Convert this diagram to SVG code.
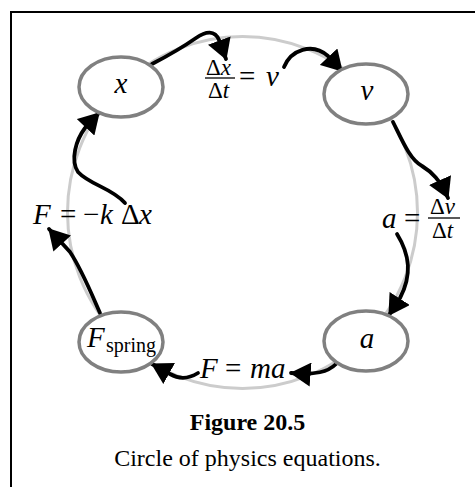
<svg xmlns="http://www.w3.org/2000/svg" width="475" height="487" viewBox="0 0 475 487">
<style>
.frame{stroke:#000;stroke-width:2;fill:none}
.ring{fill:none;stroke:#cccccc;stroke-width:3}
.node{fill:#fff;stroke:#808080;stroke-width:3.5}
.conn{fill:none;stroke:#000;stroke-width:3.8;stroke-linecap:round;marker-end:url(#ah)}
.m{font-family:"Liberation Serif","Times New Roman",serif;font-style:italic;font-size:29px;fill:#000}
.r{font-style:normal}
.f{font-size:23px}
.cap{font-family:"Liberation Serif","Times New Roman",serif;font-size:24px;fill:#000;text-anchor:middle}
</style>
<defs>
<marker id="ah" markerUnits="userSpaceOnUse" markerWidth="22" markerHeight="24" viewBox="0 0 20 22" refX="18" refY="11" orient="auto">
<path d="M0,0 L19,11 L0,22 z" fill="#000"/>
</marker>
</defs>
<path class="frame" d="M11,487 V12 H475"/>
<ellipse class="ring" cx="242.5" cy="212.5" rx="175" ry="176"/>
<g id="connectors">
<path class="conn" d="M152,64 C175,52 186,45 196,38 C206,31 215,30 219,40 Q222,48 226,59"/>
<path class="conn" d="M284,67 C291,50 312,42 328,56 L342,71"/>
<path class="conn" d="M393,122 C402,140 410,160 422,166 C432,172 440,180 448,198"/>
<path class="conn" d="M397,234 C410,255 412,275 400,298 L389,315"/>
<path class="conn" d="M336,364 C328,372 316,375 291,373"/>
<path class="conn" d="M198,373 C190,378 180,380 170,374 L152,364"/>
<path class="conn" d="M100,313 C92,295 82,270 70,252 L49,229"/>
<path class="conn" d="M125,203 C112,188 90,185 78,172 C70,160 76,140 85,128 L99,113"/>
</g>
<g id="node-x">
<ellipse class="node" cx="121" cy="87" rx="42" ry="30"/>
<text class="m" x="121" y="93" text-anchor="middle" font-size="32">x</text>
</g>
<g id="node-v">
<ellipse class="node" cx="366" cy="94" rx="42" ry="30"/>
<text class="m" x="367" y="100" text-anchor="middle" font-size="32">v</text>
</g>
<g id="node-a">
<ellipse class="node" cx="366" cy="341" rx="42" ry="30"/>
<text class="m" x="367" y="348" text-anchor="middle" font-size="32">a</text>
</g>
<g id="node-fspring">
<ellipse class="node" cx="121" cy="342" rx="42" ry="30"/>
<text class="m" x="87" y="347">F<tspan class="r" font-size="20" x="106" y="352">spring</tspan></text>
</g>
<g id="label-dxdt">
<text class="m f" x="206" y="75"><tspan class="r">Δ</tspan>x</text>
<line x1="205" y1="78" x2="235" y2="78" stroke="#000" stroke-width="1.3"/>
<text class="m f" x="208" y="98"><tspan class="r">Δ</tspan>t</text>
<text class="m" x="239" y="86"><tspan class="r">=</tspan><tspan x="266">v</tspan></text>
</g>
<g id="label-dvdt">
<text class="m" x="382" y="228">a<tspan class="r" x="404">=</tspan></text>
<text class="m f" x="430" y="214"><tspan class="r">Δ</tspan>v</text>
<line x1="428" y1="218" x2="460" y2="218" stroke="#000" stroke-width="1.3"/>
<text class="m f" x="432" y="238"><tspan class="r">Δ</tspan>t</text>
</g>
<g id="label-hooke">
<text class="m" x="33" y="224">F<tspan class="r" x="60">=</tspan><tspan class="r" x="83">−</tspan><tspan x="100">k</tspan><tspan x="121" class="r">Δ</tspan><tspan x="139">x</tspan></text>
</g>
<g id="label-newton">
<text class="m" x="200" y="378">F<tspan class="r" x="225">=</tspan><tspan x="250">ma</tspan></text>
</g>
<text class="cap" x="247.5" y="430" font-weight="bold">Figure 20.5</text>
<text class="cap" x="247.5" y="466">Circle of physics equations.</text>
</svg>
